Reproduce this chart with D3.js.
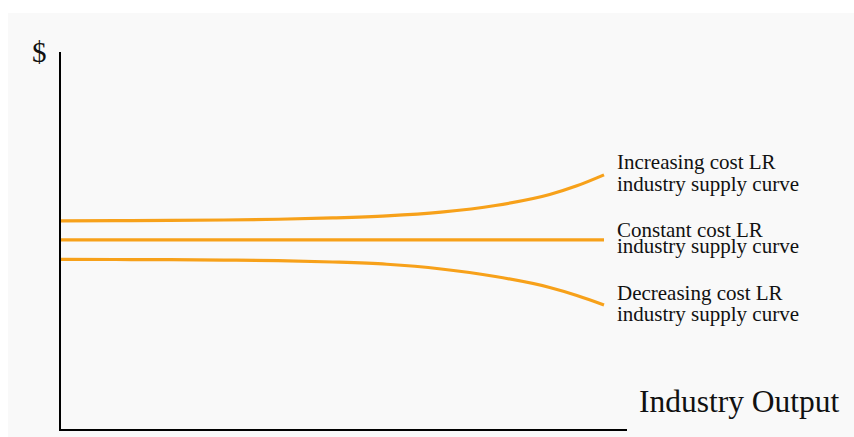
<!DOCTYPE html>
<html lang="en">
	<head>
		<meta charset="UTF-8" />
		<title>LR industry supply curves</title>
		<style>
			html,
			body {
				margin: 0;
				padding: 0;
				width: 854px;
				height: 437px;
				overflow: hidden;
				background-color: #ffffff;
			}

			svg text {
				font-family: 'Liberation Serif', 'Times New Roman', serif;
				fill: #111;
			}
		</style>
	</head>
	<body>
		<svg id="chart"></svg>

		<script src="https://cdn.jsdelivr.net/npm/d3@7"></script>

		<script>
			// output shares (0..100) and price levels
			const output = [0, 10, 20, 30, 40, 50, 60, 70, 80, 90, 95, 100];
			const increasingCost = [5.535, 5.54, 5.545, 5.555, 5.575, 5.61, 5.665, 5.765, 5.94, 6.23, 6.46, 6.75];
			const constantCost = [5.03, 5.03, 5.03, 5.03, 5.03, 5.03, 5.03, 5.03, 5.03, 5.03, 5.03, 5.03];
			const decreasingCost = [4.515, 4.51, 4.505, 4.495, 4.48, 4.445, 4.385, 4.26, 4.06, 3.77, 3.56, 3.31];
			const curveLabels = [
				['Increasing cost LR', 'industry supply curve'],
				['Constant cost LR', 'industry supply curve'],
				['Decreasing cost LR', 'industry supply curve']
			];

			const width = 854;
			const height = 437;
			const svg = d3.select('#chart').attr('width', width).attr('height', height);

			svg.append('rect')
				.attr('x', 8)
				.attr('y', 13)
				.attr('width', width - 8)
				.attr('height', height - 13)
				.attr('fill', '#f9f9f9');

			const x = d3.scaleLinear().domain([0, 100]).range([61, 604]);
			const y = d3.scaleLinear().domain([0, 10]).range([430, 52]);

			const line = d3
				.line()
				.x((d) => x(d[0]))
				.y((d) => y(d[1]))
				.curve(d3.curveMonotoneX);

			const series = [increasingCost, constantCost, decreasingCost];

			svg.append('g')
				.selectAll('path')
				.data(series)
				.join('path')
				.attr('d', (vals) => line(output.map((o, i) => [o, vals[i]])))
				.attr('fill', 'none')
				.attr('stroke', '#f7a11a')
				.attr('stroke-width', 3.2);

			// axes: plain lines, no ticks
			svg.append('line')
				.attr('x1', 60)
				.attr('x2', 60)
				.attr('y1', y.range()[1])
				.attr('y2', y.range()[0] + 1)
				.attr('stroke', '#000')
				.attr('stroke-width', 2);

			svg.append('line')
				.attr('x1', 59)
				.attr('x2', 627)
				.attr('y1', 430)
				.attr('y2', 430)
				.attr('stroke', '#000')
				.attr('stroke-width', 2);

			svg.append('text')
				.attr('x', 32)
				.attr('y', 62)
				.attr('font-size', 29)
				.text('$');

			svg.append('text')
				.attr('x', 639)
				.attr('y', 412)
				.attr('font-size', 31.5)
				.text('Industry Output');

			// first line sits just above the curve end, second line below it
			const labelOffsets = [
				[-6, 16],
				[-3, 13],
				[-5, 16]
			];
			svg.append('g')
				.selectAll('text')
				.data(curveLabels)
				.join('text')
				.attr('font-size', 21)
				.each(function (lines, i) {
					const endY = y(series[i][series[i].length - 1]);
					const t = d3.select(this);
					t.append('tspan')
						.attr('x', 617)
						.attr('y', endY + labelOffsets[i][0])
						.text(lines[0]);
					t.append('tspan')
						.attr('x', 617)
						.attr('y', endY + labelOffsets[i][1])
						.text(lines[1]);
				});
		</script>
	</body>
</html>
